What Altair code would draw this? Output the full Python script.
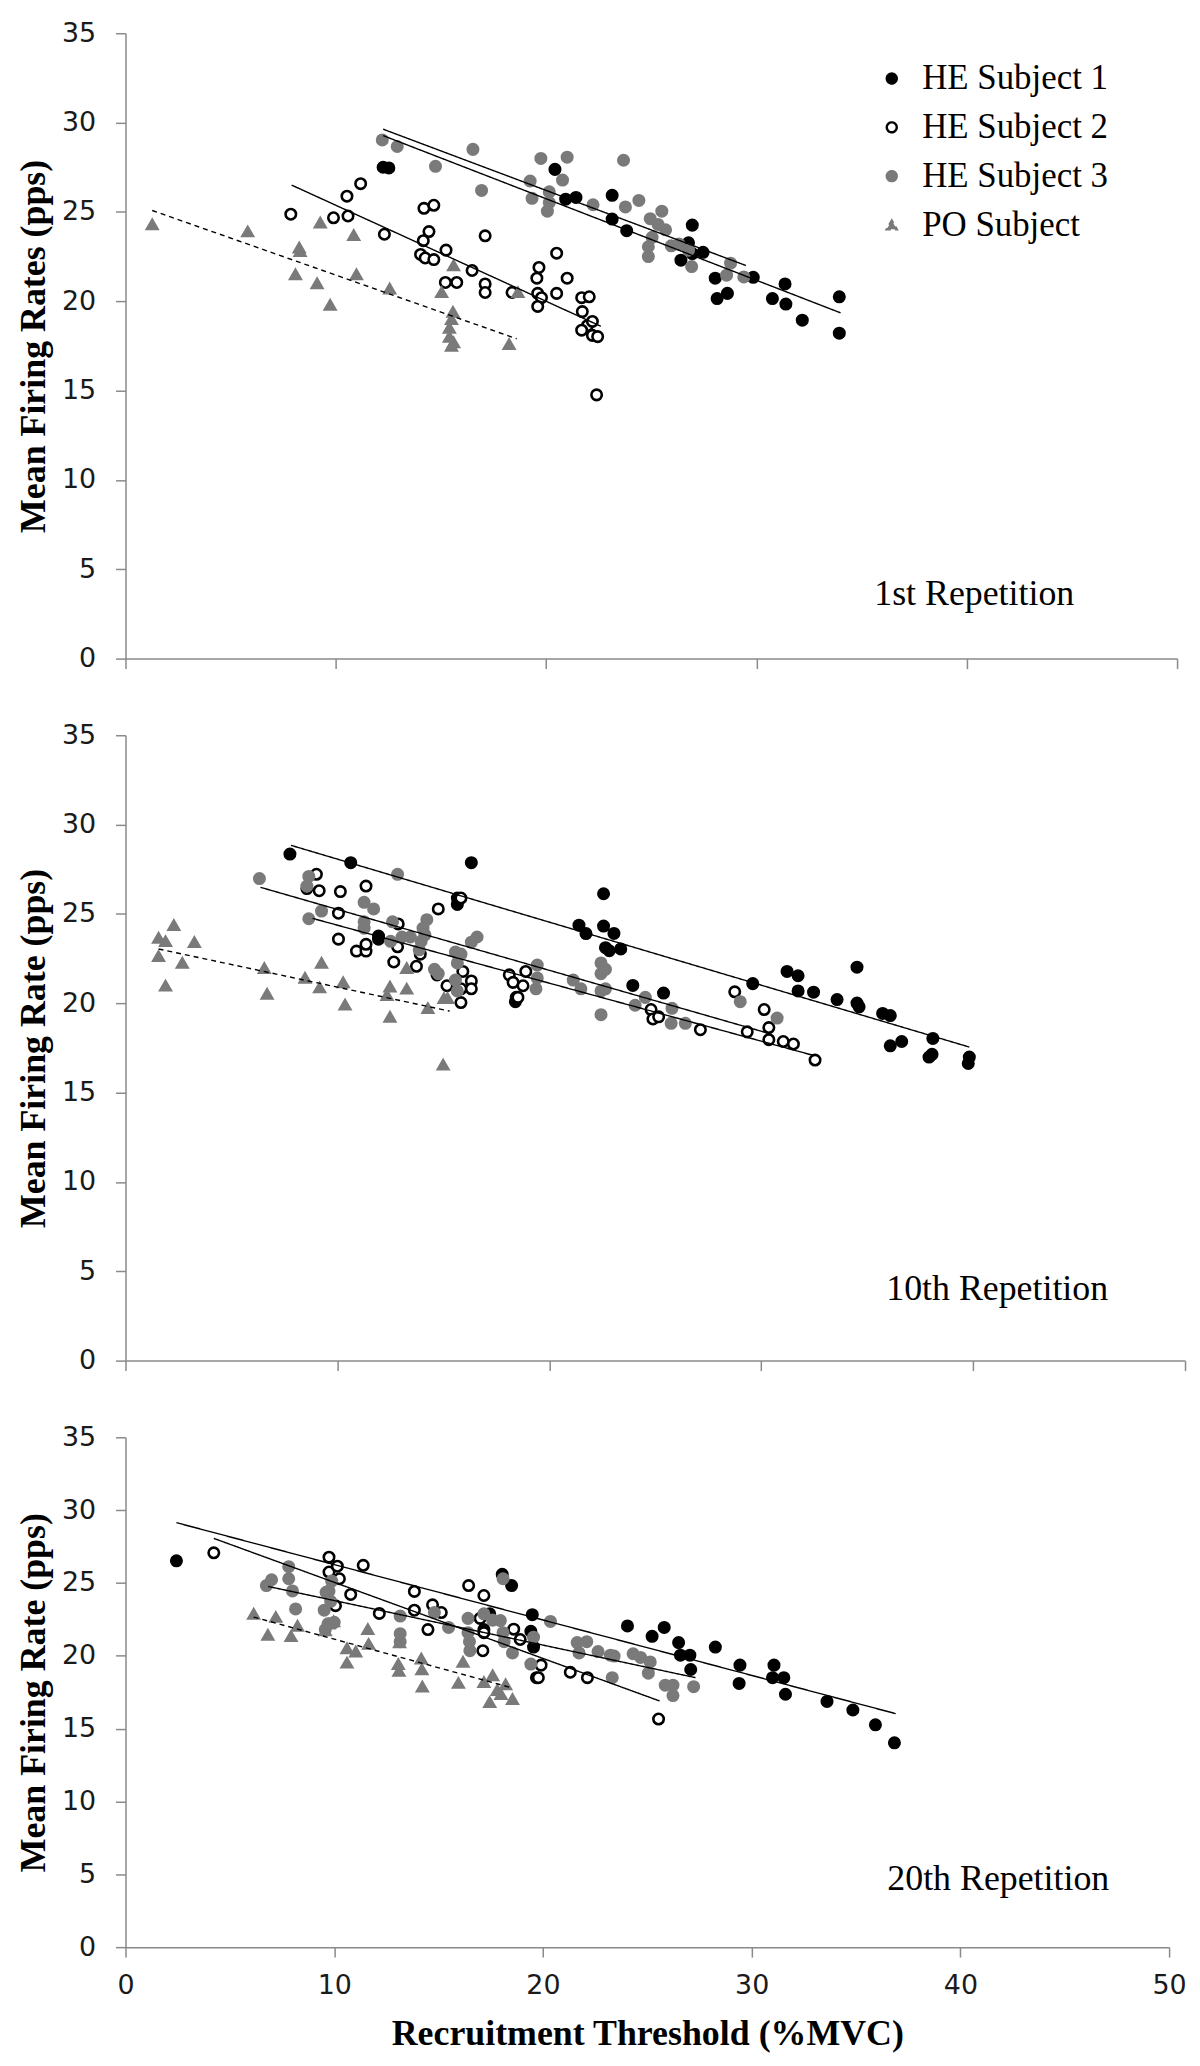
import altair as alt
import pandas as pd

subjects = ["HE Subject 1", "HE Subject 2", "HE Subject 3", "PO Subject"]
shapes = ["circle", "circle", "circle", "triangle-up"]
fills = ["#000000", "#ffffff", "#7a7a7a", "#7a7a7a"]
strokes = ["#000000", "#000000", "#7a7a7a", "#7a7a7a"]
dashes = [[1, 0], [1, 0], [1, 0], [5, 4]]

# ---------------- Panel 1: 1st repetition ----------------
p1_he1_x = [12.25, 12.52, 20.42, 20.93, 21.42, 23.14, 23.14, 23.83, 26.95, 26.77, 26.95, 27.46, 26.41,
            28.04, 28.13, 28.62, 29.85, 30.76, 31.36, 31.4, 32.18, 33.94, 33.94]
p1_he1_y = [27.5, 27.46, 27.38, 25.71, 25.81, 25.93, 24.6, 23.95, 24.26, 23.27, 22.67, 22.74, 22.3,
            21.29, 20.15, 20.44, 21.34, 20.15, 20.97, 19.84, 18.94, 20.25, 18.21]
p1_he2_x = [7.86, 9.89, 10.58, 10.53, 11.18, 12.31, 14.19, 14.66, 14.43, 14.16, 14.03, 14.25, 14.66,
            15.24, 15.21, 15.75, 16.48, 17.1, 17.1, 17.1, 18.38, 19.56, 19.66, 19.6, 19.78, 19.6,
            20.5, 20.5, 21.0, 21.69, 22.05, 21.72, 21.96, 21.69, 22.2, 22.2, 22.45, 22.4]
p1_he2_y = [24.87, 24.67, 24.77, 25.88, 26.58, 23.75, 25.2, 25.37, 23.9, 23.39, 22.62, 22.42, 22.33,
            22.86, 21.05, 21.05, 21.72, 23.66, 20.97, 20.49, 20.49, 21.29, 21.89, 20.44, 20.2, 19.71,
            22.69, 20.44, 21.29, 20.2, 20.25, 19.42, 18.63, 18.38, 18.87, 18.09, 18.02, 14.76]
p1_he3_x = [12.21, 12.92, 16.52, 14.74, 16.93, 19.75, 21.0, 19.24, 19.33, 20.15, 20.15, 20.06, 20.78,
            22.23, 23.68, 23.77, 24.41, 24.95, 25.5, 25.04, 24.86, 24.86, 25.68, 25.95, 25.32, 26.32,
            26.77, 26.92, 28.77, 28.58, 29.4]
p1_he3_y = [29.03, 28.66, 28.5, 27.55, 26.2, 27.99, 28.06, 26.73, 25.76, 26.12, 25.52, 25.04, 26.78,
            25.4, 27.89, 25.28, 25.64, 24.62, 25.04, 23.58, 23.05, 22.5, 24.0, 23.1, 24.3, 23.2,
            22.86, 21.94, 22.13, 21.46, 21.36]
p1_po_x = [1.27, 5.81, 8.26, 8.3, 8.08, 9.26, 9.11, 9.73, 10.85, 10.98, 12.56, 15.03, 15.6, 15.57,
           15.5, 15.4, 15.4, 15.5, 15.6, 18.24, 18.66]
p1_po_y = [24.3, 23.9, 23.0, 22.8, 21.5, 24.4, 21.0, 19.8, 23.7, 21.5, 20.7, 20.5, 22.0, 19.4,
           19.0, 18.5, 18.0, 17.5, 17.7, 17.6, 20.5]

# ---------------- Panel 2: 10th repetition ----------------
p2_he1_x = [7.76, 10.63, 16.32, 15.66, 15.66, 11.94, 11.94, 18.44, 18.4, 21.4, 21.73,
            22.56, 22.56, 23.05, 22.65, 23.37, 22.83, 23.94, 25.39, 29.6, 31.22, 31.74, 31.74,
            32.47, 33.58, 34.52, 34.52, 34.62, 35.73, 36.09, 36.09, 36.63, 38.1, 37.92, 38.06,
            39.82, 39.77]
p2_he1_y = [28.35, 27.87, 27.87, 25.89, 25.53, 23.76, 23.59, 20.33, 20.09, 24.37, 23.9,
            26.13, 24.32, 23.91, 23.11, 23.04, 22.94, 21.0, 20.57, 21.1, 21.78, 21.54, 20.69,
            20.62, 20.21, 22.02, 20.01, 19.8, 19.43, 19.31, 17.62, 17.86, 18.03, 16.99, 17.14,
            16.99, 16.63]
p2_he2_x = [9.01, 8.56, 9.14, 10.14, 11.35, 10.05, 10.05, 10.9, 11.35, 11.35, 12.66, 12.84, 12.87,
            13.73, 13.91, 14.76, 14.7, 15.17, 15.83, 15.83, 15.92, 16.32, 16.32, 15.83, 18.11,
            18.29, 18.76, 18.89, 18.52,
            24.8, 24.89, 25.16, 27.13, 28.75, 29.34, 30.14, 30.36, 30.36, 31.04, 31.52, 32.54]
p2_he2_y = [27.22, 26.42, 26.3, 26.25, 26.56, 25.04, 23.59, 22.92, 22.92, 23.3, 22.31, 23.16, 24.44,
            22.07, 22.75, 25.28, 21.59, 20.98, 20.81, 20.04, 21.78, 21.25, 20.81, 25.89, 21.59,
            21.17, 20.98, 21.78, 20.33,
            19.65, 19.12, 19.24, 18.52, 20.64, 18.4, 19.65, 18.64, 17.96, 17.86, 17.72, 16.82]
p2_he3_x = [6.32, 8.65, 8.56, 8.65, 9.25, 11.26, 11.71, 11.26, 11.26, 12.84, 12.6, 12.51, 13.05,
            13.44, 13.95, 14.04, 14.22, 14.13, 13.86, 14.58, 14.76, 15.57, 15.66, 15.83, 15.57,
            15.66, 16.32, 16.59, 19.43, 19.43, 19.37, 21.13, 21.49, 22.44, 22.44, 22.44, 22.44,
            22.65, 22.65, 24.05, 24.53, 25.79, 25.75, 26.42, 29.01, 30.75]
p2_he3_y = [26.98, 27.1, 26.56, 24.73, 25.16, 25.65, 25.28, 24.56, 24.2, 27.22, 24.56, 23.47, 23.71,
            23.71, 23.47, 24.2, 24.68, 23.83, 22.99, 21.9, 21.66, 22.87, 22.26, 22.75, 21.3,
            20.69, 23.42, 23.71, 22.14, 21.42, 20.81, 21.3, 20.81, 22.26, 21.66, 19.36, 20.69,
            21.9, 20.81, 19.89, 20.33, 19.72, 18.88, 18.88, 20.09, 19.17]
p2_po_x = [1.56, 1.89, 1.56, 2.28, 1.89, 2.68, 3.25, 6.55, 6.68, 8.47, 9.25, 9.16, 10.27, 10.36,
           12.48, 12.48, 12.34, 13.27, 13.27, 14.27, 15.03, 15.2, 14.99]
p2_po_y = [23.66, 23.47, 22.63, 24.37, 20.98, 22.26, 23.42, 21.97, 20.52, 21.42, 22.26, 20.88,
           21.17, 19.92, 20.93, 19.24, 20.45, 21.97, 20.81, 19.72, 20.28, 20.28, 16.56]

# ---------------- Panel 3: 20th repetition ----------------
p3_he1_x = [2.44, 18.5, 18.05, 19.49, 19.42, 19.55, 19.69, 17.45, 17.17,
            24.05, 25.23, 25.81, 26.5, 26.59, 27.04, 27.08, 28.26, 29.44, 29.4, 31.07, 31.0, 31.54,
            31.62, 33.61, 34.85, 35.93, 36.84]
p3_he1_y = [26.52, 24.82, 25.59, 22.82, 21.68, 20.6, 18.5, 22.88, 21.8,
            22.05, 21.34, 21.95, 20.91, 20.04, 20.04, 19.06, 20.6, 19.36, 18.1, 19.36, 18.5, 18.5,
            17.36, 16.87, 16.28, 15.26, 14.03]
p3_he2_x = [4.23, 9.75, 9.75, 10.15, 10.25, 11.39, 10.79, 10.06, 12.16, 13.84, 13.84, 14.71, 15.13,
            14.49, 16.44, 17.17, 16.99, 17.12, 17.17, 18.6, 18.91, 19.91, 19.78, 21.31, 22.13, 25.54]
p3_he2_y = [27.07, 26.77, 25.75, 26.15, 25.29, 26.21, 24.21, 23.44, 22.91, 24.42, 23.13, 23.5, 22.97,
            21.8, 24.82, 24.14, 22.57, 20.35, 21.59, 21.83, 21.12, 19.36, 18.5, 18.87, 18.5, 15.66]
p3_he3_x = [6.75, 7.0, 7.82, 7.82, 8.0, 8.15, 9.52, 9.75, 9.88, 9.7, 9.61, 9.83, 9.57, 10.0,
            13.16, 13.16, 13.16, 14.8, 15.48, 16.41, 16.41, 16.48, 16.5, 17.17, 17.59, 18.09, 17.96,
            18.09, 18.14, 18.54, 19.55, 19.42, 20.36, 21.64, 22.1, 21.73, 22.64,
            23.23, 23.41, 23.32, 24.32, 24.68, 25.14, 25.05, 25.86, 26.23, 26.23, 27.22]
p3_he3_y = [24.82, 25.22, 26.12, 25.29, 24.45, 23.22, 23.13, 24.45, 25.13, 22.2, 24.36, 23.74, 21.8, 22.3,
            22.73, 21.52, 20.97, 22.97, 21.95, 22.57, 21.59, 20.97, 20.35, 22.88, 22.45, 25.29, 22.42,
            21.59, 20.97, 20.2, 21.28, 19.43, 22.36, 20.91, 20.97, 20.2, 20.29,
            20.04, 19.98, 18.5, 20.14, 19.89, 19.58, 18.81, 17.98, 17.98, 17.27, 17.88]
p3_po_x = [6.14, 7.2, 6.82, 7.93, 8.24, 9.75, 9.97, 9.57, 10.61, 10.61, 11.03, 11.61, 11.65, 13.07,
           13.1, 13.13, 14.17, 14.2, 14.22, 16.17, 15.95, 17.17, 17.45, 17.59, 17.81, 17.99, 18.21,
           18.54]
p3_po_y = [22.88, 22.66, 21.43, 21.34, 22.05, 22.2, 22.36, 21.74, 20.51, 19.52, 20.29, 21.83, 20.81,
           19.43, 18.96, 20.91, 19.8, 19.06, 17.88, 19.58, 18.13, 18.19, 16.81, 18.66, 17.64, 17.36,
           18.04, 17.02]

# ---------------- Fitted lines (start / end) ----------------
fit_panel = [1, 1, 1, 1, 2, 2, 2, 2, 3, 3, 3, 3]
fit_subject = subjects * 3
fit_x1 = [12.25, 7.9, 12.25, 1.27, 7.81, 8.83, 6.37, 1.56, 2.44, 4.23, 6.84, 6.14]
fit_y1 = [29.27, 26.5, 29.63, 25.08, 28.84, 24.75, 26.49, 23.04, 29.14, 28.06, 24.76, 22.66]
fit_x2 = [34.0, 22.6, 29.5, 18.6, 39.82, 32.5, 30.4, 15.3, 36.9, 25.59, 27.31, 18.54]
fit_y2 = [19.35, 18.6, 22.0, 17.9, 17.55, 17.07, 18.3, 19.56, 16.03, 16.9, 18.5, 17.79]

# ---------------- Panel annotations ----------------
rep_labels = ["1st Repetition", "10th Repetition", "20th Repetition"]
rep_x = [35.6, 35.9, 36.5]
rep_y = [3.6, 4.0, 4.7]

y_titles = ["Mean Firing Rates (pps)", "Mean Firing Rate (pps)", "Mean Firing Rate (pps)"]
x_title = "Recruitment Threshold (%MVC)"
x_ticks = [0, 10, 20, 30, 40, 50]
y_ticks = [0, 5, 10, 15, 20, 25, 30, 35]

series = {
    1: [(p1_he1_x, p1_he1_y), (p1_he2_x, p1_he2_y), (p1_he3_x, p1_he3_y), (p1_po_x, p1_po_y)],
    2: [(p2_he1_x, p2_he1_y), (p2_he2_x, p2_he2_y), (p2_he3_x, p2_he3_y), (p2_po_x, p2_po_y)],
    3: [(p3_he1_x, p3_he1_y), (p3_he2_x, p3_he2_y), (p3_he3_x, p3_he3_y), (p3_po_x, p3_po_y)],
}

GRAY_AX = "#8a8a8a"


def make_panel(pn, width, height):
    rows = []
    for subj, (xs, ys) in zip(subjects, series[pn]):
        for xv, yv in zip(xs, ys):
            rows.append({"subject": subj, "x": xv, "y": yv})
    pts = pd.DataFrame(rows)
    fits = pd.DataFrame({"panel": fit_panel, "subject": fit_subject, "x1": fit_x1, "y1": fit_y1,
                         "x2": fit_x2, "y2": fit_y2})
    fits = fits[fits["panel"] == pn]
    txt = pd.DataFrame({"label": [rep_labels[pn - 1]], "x": [rep_x[pn - 1]], "y": [rep_y[pn - 1]]})

    last = pn == 3
    xaxis_kw = dict(values=x_ticks, tickSize=10, labelFlush=False, grid=False,
                    domainColor=GRAY_AX, tickColor=GRAY_AX, domainWidth=1.5, tickWidth=1.5,
                    labelFont="DejaVu Sans", labelFontSize=27, labelColor="#1a1a1a",
                    labelPadding=16, titleFont="Liberation Serif", titleFontSize=36,
                    titleFontWeight="bold", titleColor="black", titlePadding=18)
    if last:
        xaxis = alt.Axis(title=x_title, **xaxis_kw)
    else:
        xaxis = alt.Axis(title=None, labels=False, **xaxis_kw)
    yaxis = alt.Axis(values=y_ticks, title=y_titles[pn - 1], tickSize=10, labelFlush=False,
                     grid=False, domainColor=GRAY_AX, tickColor=GRAY_AX, domainWidth=1.5,
                     tickWidth=1.5, labelFont="DejaVu Sans", labelFontSize=27,
                     labelColor="#1a1a1a", labelPadding=20, titleFont="Liberation Serif",
                     titleFontSize=36, titleFontWeight="bold", titleColor="black",
                     titlePadding=9)
    xs = alt.Scale(domain=[0, 50], nice=False)
    ys = alt.Scale(domain=[0, 35], nice=False)

    if pn == 1:
        leg = alt.Legend(orient="none", legendX=752, legendY=28, padding=0,
                         labelFont="Liberation Serif", labelFontSize=35, labelColor="black",
                         symbolSize=100, symbolStrokeWidth=2.4, rowPadding=13, labelOffset=13,
                         labelLimit=400)
        shape = alt.Shape("subject:N", scale=alt.Scale(domain=subjects, range=shapes), legend=leg, title=None)
        fill = alt.Fill("subject:N", scale=alt.Scale(domain=subjects, range=fills), legend=leg, title=None)
        stroke = alt.Stroke("subject:N", scale=alt.Scale(domain=subjects, range=strokes), legend=leg, title=None)
    else:
        shape = alt.Shape("subject:N", scale=alt.Scale(domain=subjects, range=shapes), legend=None)
        fill = alt.Fill("subject:N", scale=alt.Scale(domain=subjects, range=fills), legend=None)
        stroke = alt.Stroke("subject:N", scale=alt.Scale(domain=subjects, range=strokes), legend=None)

    points = alt.Chart(pts).mark_point(filled=True, size=110, strokeWidth=2.6, opacity=1).encode(
        x=alt.X("x:Q", scale=xs, axis=xaxis),
        y=alt.Y("y:Q", scale=ys, axis=yaxis),
        shape=shape, fill=fill, stroke=stroke,
    )
    lines = alt.Chart(fits).mark_rule(color="black", strokeWidth=1.4).encode(
        x=alt.X("x1:Q", scale=xs, axis=xaxis),
        y=alt.Y("y1:Q", scale=ys, axis=yaxis),
        x2="x2:Q", y2="y2:Q",
        strokeDash=alt.StrokeDash("subject:N", scale=alt.Scale(domain=subjects, range=dashes), legend=None),
    )
    text = alt.Chart(txt).mark_text(align="left", baseline="middle", font="Liberation Serif",
                                    fontSize=36, color="black").encode(
        x=alt.X("x:Q", scale=xs, axis=xaxis),
        y=alt.Y("y:Q", scale=ys, axis=yaxis),
        text="label:N",
    )
    return alt.layer(points, lines, text).properties(width=width, height=height)


p1 = make_panel(1, 1056, 628)
p2 = make_panel(2, 1064, 628)
p3 = make_panel(3, 1048, 512)

chart = alt.vconcat(p1, p2, p3, spacing=50).resolve_scale(
    shape="independent", fill="independent", stroke="independent", strokeDash="independent"
).properties(
    padding={"top": 7, "left": 7, "right": 5, "bottom": 5},
    background="white",
).configure_view(strokeWidth=0)

chart.save("out.html", embed_options={"renderer": "svg", "actions": False})
